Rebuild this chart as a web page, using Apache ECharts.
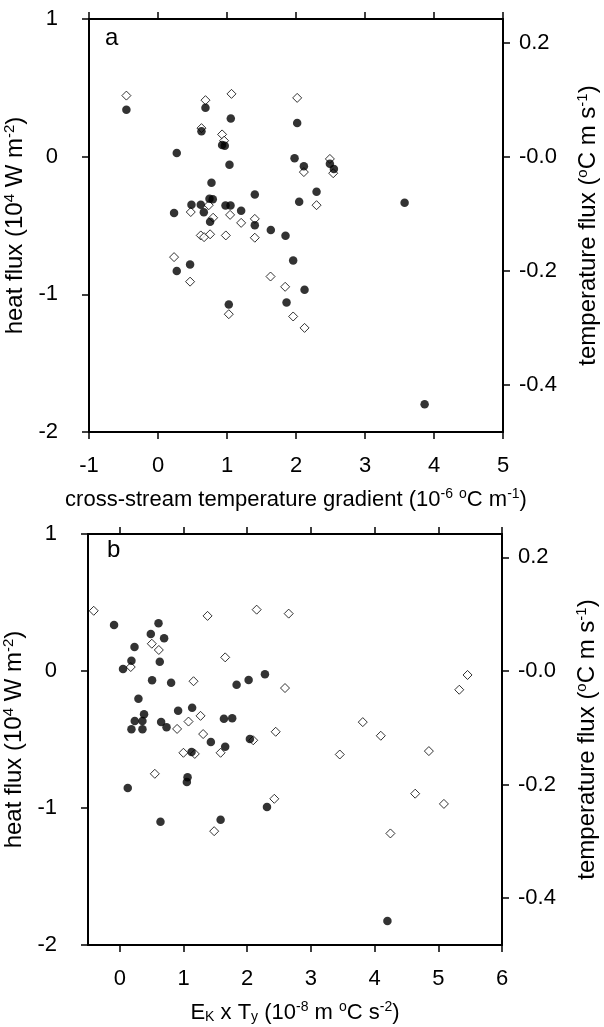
<!DOCTYPE html>
<html>
<head>
<meta charset="utf-8">
<script src="https://cdn.jsdelivr.net/npm/echarts@6/dist/echarts.min.js"></script>
<style>
html,body{margin:0;padding:0;background:#fff;}
#c{width:604px;height:1027px;}
</style>
</head>
<body>
<div id="c"></div>
<script>
// ---------- data ----------
const xTicksA = [-1, 0, 1, 2, 3, 4, 5];
const xTicksB = [0, 1, 2, 3, 4, 5, 6];
const heatTicks = [1, 0, -1, -2];
const tempTicks = [0.2, 0, -0.2, -0.4];

// panel a: heat flux (1e4 W m-2) vs cross-stream temperature gradient
const heatA = [
  [-0.458, 0.341], [0.688, 0.356], [1.055, 0.278], [0.630, 0.184], [0.929, 0.085],
  [0.968, 0.080], [0.272, 0.027], [1.036, -0.058], [0.775, -0.189], [1.403, -0.274],
  [0.746, -0.305], [0.794, -0.310], [0.485, -0.349], [0.620, -0.349], [0.978, -0.354],
  [1.051, -0.354], [0.233, -0.409], [0.664, -0.404], [1.205, -0.392], [0.755, -0.472],
  [1.403, -0.499], [1.635, -0.533], [1.848, -0.574], [2.017, 0.245], [1.979, -0.012],
  [2.114, -0.070], [2.491, -0.051], [2.549, -0.090], [2.298, -0.254], [2.046, -0.327],
  [3.574, -0.334], [0.272, -0.830], [0.465, -0.784], [1.026, -1.073], [1.863, -1.060],
  [1.959, -0.755], [2.124, -0.966], [3.864, -1.799]
];
// panel a: temperature flux (°C m s-1)
const tempA = [
  [-0.458, 0.107], [0.688, 0.099], [1.065, 0.110], [0.630, 0.050], [0.929, 0.039],
  [0.958, 0.028], [0.736, -0.085], [0.475, -0.097], [0.799, -0.107], [1.045, -0.102],
  [1.205, -0.116], [1.403, -0.109], [0.620, -0.138], [0.668, -0.141], [0.755, -0.136],
  [0.983, -0.138], [1.403, -0.142], [0.233, -0.176], [2.017, 0.103], [2.491, -0.004],
  [2.114, -0.027], [2.539, -0.029], [2.298, -0.085], [0.465, -0.219], [1.026, -0.276],
  [1.631, -0.210], [1.843, -0.228], [1.959, -0.280], [2.124, -0.300]
];
// panel b: heat flux vs E_K x T_y
const heatB = [
  [-0.091, 0.336], [0.607, 0.348], [0.486, 0.270], [0.695, 0.239], [0.230, 0.175],
  [0.182, 0.075], [0.627, 0.068], [0.050, 0.015], [0.506, -0.068], [0.805, -0.085],
  [1.833, -0.100], [0.292, -0.202], [0.380, -0.316], [0.234, -0.365], [0.355, -0.365],
  [0.182, -0.426], [0.355, -0.426], [0.648, -0.372], [0.733, -0.411], [0.915, -0.290],
  [1.135, -0.268], [1.634, -0.348], [1.764, -0.345], [1.429, -0.518], [1.654, -0.553],
  [1.126, -0.591], [2.022, -0.066], [2.278, -0.024], [2.042, -0.496], [0.124, -0.854],
  [1.063, -0.776], [1.052, -0.810], [0.638, -1.100], [1.582, -1.085], [2.310, -0.993],
  [4.201, -1.825]
];
// panel b: temperature flux
const tempB = [
  [-0.410, 0.106], [1.377, 0.097], [0.502, 0.048], [0.612, 0.037], [0.171, 0.007],
  [1.654, 0.024], [1.157, -0.018], [1.267, -0.079], [1.078, -0.089], [0.899, -0.102],
  [1.308, -0.111], [0.998, -0.144], [1.177, -0.146], [1.582, -0.144], [2.148, 0.108],
  [2.651, 0.101], [2.593, -0.030], [2.447, -0.107], [2.094, -0.122], [3.814, -0.090],
  [4.097, -0.114], [3.453, -0.147], [4.852, -0.141], [5.459, -0.007], [5.329, -0.033],
  [0.549, -0.181], [1.481, -0.282], [2.425, -0.225], [4.637, -0.216], [5.088, -0.234],
  [4.248, -0.286]
];

// ---------- styling ----------
const FONT = '"Liberation Sans", Arial, Helvetica, sans-serif';
const TEMP_PER_HEAT = 0.2412; // right-axis scale relative to left axis
function nameStyleOf(size, supSize, shift) {
  return {
    fontSize: size, fontFamily: FONT, color: '#000',
    rich: {
      sup: { fontSize: supSize, fontFamily: FONT, color: '#000', padding: [0, 0, shift, 0] },
      sub: { fontSize: supSize, fontFamily: FONT, color: '#000', padding: [shift - 2, 0, 0, 0] }
    }
  };
}
const xNameStyle = nameStyleOf(22, 14, 11);
const yNameStyle = nameStyleOf(24, 15, 12);
const lineStyle = { color: '#000', width: 2 };
const tickStyle = { color: '#000', width: 1.5 };
const labelStyle = { fontSize: 22, fontFamily: FONT, color: '#000' };

function xAxes(grid, min, max, ticks, name) {
  return [
    {
      gridIndex: grid, type: 'value', min: min, max: max, position: 'bottom',
      axisLine: { show: true, onZero: false, lineStyle: lineStyle },
      axisTick: { show: true, length: 7, lineStyle: tickStyle, customValues: ticks },
      axisLabel: Object.assign({ margin: 23, customValues: ticks }, labelStyle),
      splitLine: { show: false },
      name: name, nameLocation: 'middle', nameGap: 55, nameTextStyle: xNameStyle
    },
    {
      gridIndex: grid, type: 'value', min: min, max: max, position: 'top',
      axisLine: { show: true, onZero: false, lineStyle: lineStyle },
      axisTick: { show: true, length: 7, lineStyle: tickStyle, customValues: ticks },
      axisLabel: { show: false },
      splitLine: { show: false }
    }
  ];
}
function yAxes(grid) {
  return [
    {
      gridIndex: grid, type: 'value', min: -2, max: 1, interval: 1, position: 'left',
      axisLine: { show: true, onZero: false, lineStyle: lineStyle },
      axisTick: { show: true, length: 7, lineStyle: tickStyle, customValues: heatTicks },
      axisLabel: Object.assign({ margin: 31, customValues: heatTicks }, labelStyle),
      splitLine: { show: false },
      name: 'heat flux (10{sup|4} W m{sup|-2})', nameLocation: 'middle', nameGap: 59,
      nameRotate: 90, nameTextStyle: yNameStyle
    },
    {
      gridIndex: grid, type: 'value', min: -2 * TEMP_PER_HEAT, max: 1 * TEMP_PER_HEAT, position: 'right',
      axisLine: { show: true, onZero: false, lineStyle: lineStyle },
      axisTick: { show: true, length: 7, lineStyle: tickStyle, customValues: tempTicks },
      axisLabel: Object.assign({
        margin: 16, customValues: tempTicks,
        formatter: function (v) { return v === 0 ? '-0.0' : v.toFixed(1); }
      }, labelStyle),
      splitLine: { show: false },
      name: 'temperature flux ({sup|o}C m s{sup|-1})', nameLocation: 'middle', nameGap: 72,
      nameRotate: 90, nameTextStyle: yNameStyle
    }
  ];
}
function filled(data, xi, yi) {
  return {
    type: 'scatter', xAxisIndex: xi, yAxisIndex: yi, data: data, z: 3,
    symbol: 'circle', symbolSize: 8.5,
    itemStyle: { color: '#000' }, silent: true
  };
}
function open(data, xi, yi) {
  return {
    type: 'scatter', xAxisIndex: xi, yAxisIndex: yi, data: data, z: 2,
    symbol: 'diamond', symbolSize: 9,
    itemStyle: { color: '#fff', borderColor: '#000', borderWidth: 1 }, silent: true
  };
}

const chart = echarts.init(document.getElementById('c'), null, { renderer: 'canvas' });
chart.setOption({
  animation: false,
  backgroundColor: '#fff',
  grid: [
    { left: 89, top: 19, width: 414, height: 413, outerBoundsMode: 'none', containLabel: false },
    { left: 88, top: 534, width: 414, height: 411, outerBoundsMode: 'none', containLabel: false }
  ],
  xAxis: [].concat(
    xAxes(0, -1, 5, xTicksA, 'cross-stream temperature gradient (10{sup|-6} {sup|o}C m{sup|-1})'),
    xAxes(1, -0.5, 6, xTicksB, 'E{sub|K} x T{sub|y} (10{sup|-8} m {sup|o}C s{sup|-2})')
  ),
  yAxis: [].concat(yAxes(0), yAxes(1)),
  graphic: [
    { type: 'text', left: 105, top: 26, style: { text: 'a', font: '24px ' + FONT, fill: '#000' } },
    { type: 'text', left: 107, top: 538, style: { text: 'b', font: '24px ' + FONT, fill: '#000' } }
  ],
  series: [
    open(tempA, 0, 1), filled(heatA, 0, 0),
    open(tempB, 2, 3), filled(heatB, 2, 2)
  ]
});
</script>
</body>
</html>
